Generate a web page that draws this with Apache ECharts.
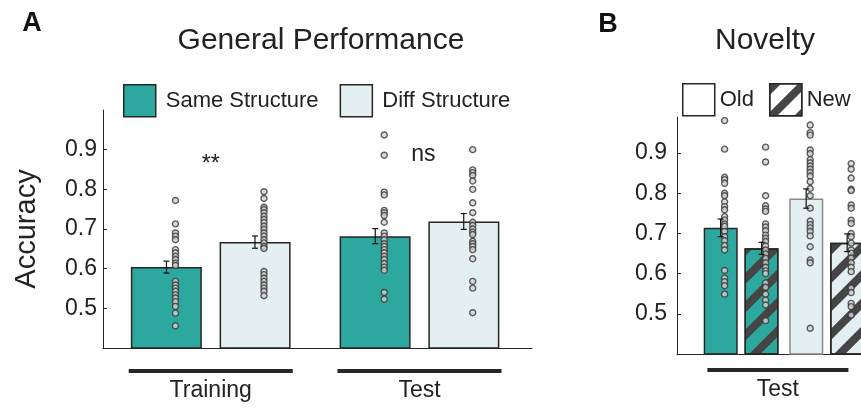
<!DOCTYPE html>
<html><head><meta charset="utf-8">
<script src="https://cdn.jsdelivr.net/npm/echarts@6/dist/echarts.min.js"></script>
<style>html,body{margin:0;padding:0;background:#fff}#c{width:861px;height:409px}</style>
</head><body><div id="c"></div>
<script>
// ---------- data ----------
const yTicks = [0.5, 0.6, 0.7, 0.8, 0.9];

// Panel A: General Performance
const groupsA = ['Training', 'Test'];
const seriesNamesA = ['Same Structure', 'Diff Structure'];
const sameMeanA = [0.604, 0.682];
const diffMeanA = [0.667, 0.719];
const sameSemA = [0.015, 0.019];
const diffSemA = [0.0155, 0.020];
const sigLabelsA = ['**', 'ns'];
const dotsTrainSame = [0.772,0.713,0.690,0.682,0.673,0.648,0.640,0.631,0.623,0.614,0.608,0.568,0.559,0.551,0.543,0.534,0.526,0.517,0.505,0.488,0.456];
const dotsTrainDiff = [0.794,0.777,0.755,0.749,0.741,0.732,0.724,0.716,0.707,0.699,0.690,0.682,0.673,0.665,0.656,0.651,0.593,0.585,0.576,0.568,0.559,0.551,0.543,0.532];
const dotsTestSame = [0.937,0.886,0.793,0.786,0.747,0.741,0.734,0.717,0.690,0.682,0.673,0.663,0.656,0.648,0.640,0.631,0.623,0.613,0.604,0.596,0.540,0.523];
const dotsTestDiff = [0.900,0.849,0.842,0.835,0.821,0.800,0.766,0.741,0.717,0.709,0.700,0.692,0.686,0.669,0.663,0.656,0.648,0.625,0.568,0.551,0.489];

// Panel B: Novelty (Test only)
const groupsB = ['Same Structure', 'Diff Structure'];
const bracketB = ['Test'];
const seriesNamesB = ['Old', 'New'];
const oldMeanB = [0.714, 0.787];
const newMeanB = [0.663, 0.677];
const oldSemB = [0.022, 0.024];
const newSemB = [0.015, 0.022];
const dotsSameOld = [0.981,0.910,0.840,0.834,0.825,0.800,0.794,0.779,0.767,0.759,0.742,0.734,0.724,0.718,0.705,0.692,0.682,0.670,0.659,0.608,0.589,0.580,0.570,0.549];
const dotsSameNew = [0.915,0.878,0.794,0.769,0.761,0.755,0.724,0.716,0.707,0.696,0.688,0.680,0.669,0.659,0.649,0.638,0.627,0.616,0.607,0.600,0.577,0.566,0.549,0.534,0.522,0.483];
const dotsDiffOld = [0.970,0.951,0.945,0.908,0.899,0.884,0.876,0.868,0.860,0.852,0.843,0.829,0.812,0.794,0.763,0.731,0.722,0.714,0.705,0.694,0.667,0.634,0.627,0.464];
const dotsDiffNew = [0.874,0.860,0.838,0.810,0.807,0.771,0.763,0.733,0.725,0.700,0.692,0.676,0.659,0.651,0.639,0.627,0.616,0.605,0.564,0.553,0.526,0.518,0.497];

// ---------- styling / layout ----------
const FONT = "'Liberation Sans', Arial, Helvetica, sans-serif";
const TEAL = '#2ca89f', LIGHT = '#e3eff1', INK = '#262626', TXT = '#222';
const Y_MIN = 0.4;
const hatch = { symbol: 'rect', symbolSize: 1, color: '#454545', dashArrayX: [1, 0], dashArrayY: [8, 12], rotation: -Math.PI / 4 };
const pos = i => i + 1;

const chart = echarts.init(document.getElementById('c'), null, { renderer: 'canvas' });

function barSeries(name, means, colors, xi, width, gap, borders) {
  return {
    type: 'bar', name, xAxisIndex: xi, yAxisIndex: xi,
    barWidth: width, barGap: gap, z: 2, silent: true,
    data: means.map((v, i) => ({ value: [pos(i), v], itemStyle: { color: colors[i], borderColor: (borders || [])[i] || INK } })),
    itemStyle: { color: colors[0], borderColor: INK, borderWidth: 1.5 }
  };
}
function dotSeries(dotsByGroup, offsetPx, xi) {
  return {
    type: 'scatter', xAxisIndex: xi, yAxisIndex: xi, symbol: 'circle', symbolSize: 6,
    symbolOffset: [offsetPx, 0], z: 5, silent: true,
    data: dotsByGroup.flatMap((arr, i) => arr.map(v => [pos(i), v])),
    itemStyle: { color: '#d2d2d2', borderColor: '#363636', borderWidth: 1.4 }
  };
}
function errSeries(means, sems, offsetPx, xi) {
  return {
    type: 'custom', xAxisIndex: xi, yAxisIndex: xi, z: 6, silent: true,
    data: means.map((m, i) => [pos(i), m, sems[i]]),
    renderItem: (params, api) => {
      const x = api.value(0), m = api.value(1), s = api.value(2);
      const hi = api.coord([x, m + s]), lo = api.coord([x, m - s]);
      const cx = hi[0] + offsetPx, cap = 3;
      const st = { stroke: '#111', lineWidth: 1.2 };
      return { type: 'group', children: [
        { type: 'line', shape: { x1: cx, y1: hi[1], x2: cx, y2: lo[1] }, style: st },
        { type: 'line', shape: { x1: cx - cap, y1: hi[1], x2: cx + cap, y2: hi[1] }, style: st },
        { type: 'line', shape: { x1: cx - cap, y1: lo[1], x2: cx + cap, y2: lo[1] }, style: st }
      ]};
    }
  };
}
function bracketSeries(labels, centers, halfW, lineDy, textDy, shiftPx, xi) {
  return {
    type: 'custom', xAxisIndex: xi, yAxisIndex: xi, clip: false, silent: true, z: 3,
    data: labels.map((l, i) => [centers[i], Y_MIN]),
    renderItem: (params, api) => {
      const c = api.coord([api.value(0), api.value(1)]);
      const cx = c[0] + shiftPx;
      return { type: 'group', children: [
        { type: 'line', shape: { x1: cx - halfW, y1: c[1] + lineDy, x2: cx + halfW, y2: c[1] + lineDy }, style: { stroke: INK, lineWidth: 4 } },
        { type: 'text', style: { text: labels[params.dataIndex], x: cx, y: c[1] + textDy, align: 'center', verticalAlign: 'middle', textAlign: 'center', textVerticalAlign: 'middle', font: '23px ' + FONT, fill: TXT } }
      ]};
    }
  };
}
function sigSeries(labels, xi) {
  const yv = [0.863, 0.888];
  return {
    type: 'custom', xAxisIndex: xi, yAxisIndex: xi, clip: false, silent: true, z: 7,
    data: labels.map((l, i) => [pos(i), yv[i]]),
    renderItem: (params, api) => {
      const c = api.coord([api.value(0), api.value(1)]);
      const dx = params.dataIndex === 1 ? 4 : 0;
      return { type: 'text', style: { text: labels[params.dataIndex], x: c[0] + dx, y: c[1], align: 'center', verticalAlign: 'middle', textAlign: 'center', textVerticalAlign: 'middle', font: '23px ' + FONT, fill: TXT } };
    }
  };
}

const axisLine = { show: true, onZero: false, lineStyle: { color: INK, width: 1 } };
function yAxis(gi, max, margin, name) {
  return {
    gridIndex: gi, type: 'value', min: Y_MIN, max,
    axisLine, splitLine: { show: false },
    axisTick: { show: true, inside: true, length: 4, customValues: yTicks, lineStyle: { color: INK } },
    axisLabel: { customValues: yTicks, formatter: v => v.toFixed(1), fontSize: 23, color: TXT, fontFamily: FONT, margin },
    name: name || '', nameLocation: 'middle', nameGap: 62,
    nameTextStyle: { fontSize: 29, color: TXT, fontFamily: FONT }
  };
}
function xAxis(gi, min, max) {
  return {
    gridIndex: gi, type: 'value', min, max, axisLine,
    axisTick: { show: false }, axisLabel: { show: false }, splitLine: { show: false }
  };
}
const legendCommon = { orient: 'horizontal', itemWidth: 32, itemHeight: 32, icon: 'rect', selectedMode: false, padding: 0,
  itemStyle: { borderColor: INK, borderWidth: 1.5 } };

const colorsByGroupB = [TEAL, LIGHT];

chart.setOption({
  animation: false,
  backgroundColor: '#fff',
  grid: [
    { left: 103, top: 110, width: 429, height: 238 },
    { left: 677, top: 117, width: 184, height: 237 }
  ],
  xAxis: [xAxis(0, 0.484, 2.539), xAxis(1, 0.251, 2.401)],
  yAxis: [yAxis(0, 1.0, 6, 'Accuracy'), yAxis(1, 0.99, 10)],
  legend: [
    Object.assign({}, legendCommon, { left: 123, top: 84, itemGap: 21, data: seriesNamesA,
      textStyle: { fontSize: 22, color: TXT, fontFamily: FONT, padding: [0, 0, 0, 5] } }),
    Object.assign({}, legendCommon, { left: 682, top: 83, itemGap: 15,
      data: [{ name: seriesNamesB[0], itemStyle: { color: '#fff' } }, { name: seriesNamesB[1], itemStyle: { color: '#fff', decal: hatch } }],
      textStyle: { fontSize: 22, color: TXT, fontFamily: FONT } })
  ],
  graphic: [
    { type: 'text', x: 32, y: 24, style: { text: 'A', font: 'bold 27px ' + FONT, fill: '#111', align: 'center', verticalAlign: 'middle', textAlign: 'center', textVerticalAlign: 'middle' } },
    { type: 'text', x: 321, y: 41, style: { text: 'General Performance', font: '30px ' + FONT, fill: TXT, align: 'center', verticalAlign: 'middle', textAlign: 'center', textVerticalAlign: 'middle' } },
    { type: 'text', x: 608, y: 25, style: { text: 'B', font: 'bold 27px ' + FONT, fill: '#111', align: 'center', verticalAlign: 'middle', textAlign: 'center', textVerticalAlign: 'middle' } },
    { type: 'text', x: 765, y: 41, style: { text: 'Novelty', font: '30px ' + FONT, fill: TXT, align: 'center', verticalAlign: 'middle', textAlign: 'center', textVerticalAlign: 'middle' } }
  ],
  series: [
    barSeries(seriesNamesA[0], sameMeanA, [TEAL, TEAL], 0, 71, '25%'),
    barSeries(seriesNamesA[1], diffMeanA, [LIGHT, LIGHT], 0, 71, '25%'),
    dotSeries([dotsTrainSame, dotsTestSame], -44.25 + 9, 0),
    dotSeries([dotsTrainDiff, dotsTestDiff], 44.25 + 9, 0),
    errSeries(sameMeanA, sameSemA, -44.25, 0),
    errSeries(diffMeanA, diffSemA, 44.25, 0),
    sigSeries(sigLabelsA, 0),
    bracketSeries(groupsA, groupsA.map((g, i) => pos(i)), 82, 23, 43, 0, 0),

    barSeries(seriesNamesB[0], oldMeanB, colorsByGroupB, 1, 34, '20%', [INK, '#8a8a8a']),
    barSeries(seriesNamesB[1], newMeanB, colorsByGroupB, 1, 34, '20%'),
    dotSeries([dotsSameOld, dotsDiffOld], -20.5 + 4, 1),
    dotSeries([dotsSameNew, dotsDiffNew], 20.5 + 4, 1),
    errSeries(oldMeanB, oldSemB, -20.5, 1),
    errSeries(newMeanB, newSemB, 20.5, 1),
    bracketSeries(bracketB, [(pos(0) + pos(1)) / 2], 70.5, 16, 36, -6, 1)
  ]
});
// hatch decal for the "New" bars
chart.setOption({ series: [{}, {}, {}, {}, {}, {}, {}, {}, {}, { itemStyle: { decal: hatch } }] });
</script></body></html>
